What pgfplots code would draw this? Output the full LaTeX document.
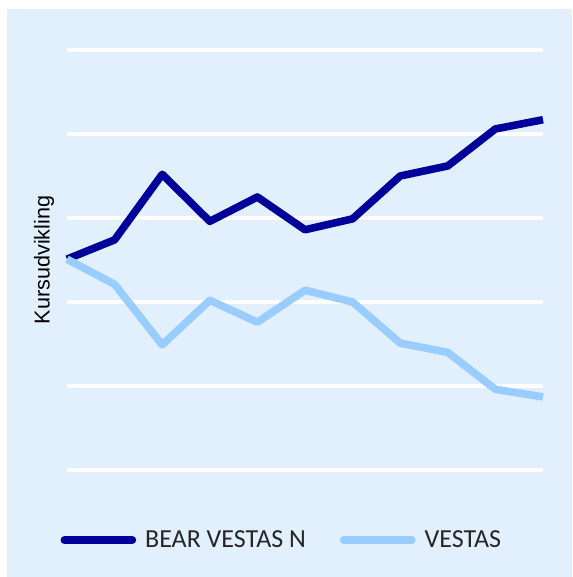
\documentclass[border=0pt]{standalone}
\usepackage{pgfplots}
\pgfplotsset{compat=1.18}
\usepackage{fontspec}
\setmainfont{Carlito}
\newfontfamily\arialfont{Liberation Sans}
\definecolor{bgc}{HTML}{E2F0FE}
\definecolor{darkc}{HTML}{00009B}
\definecolor{lightc}{HTML}{99CCFF}
\pgfplotstableread{
x dark light
0 2.51 2.51
1 2.74 2.21
2 3.52 1.49
3 2.96 2.02
4 3.25 1.76
5 2.86 2.14
6 2.99 2.00
7 3.50 1.51
8 3.62 1.40
9 4.06 0.96
10 4.17 0.87
}\datatable
\begin{document}
\begin{tikzpicture}
\path (0,0) rectangle (286pt,288.5pt);
\fill[bgc] (3.5pt,0pt) rectangle (286pt,284pt);
\begin{axis}[
  at={(33.5pt,53.5pt)}, anchor=south west,
  scale only axis, width=238pt, height=210pt,
  xmin=0, xmax=10, ymin=0, ymax=5,
  axis line style={draw=none},
  ytick={0,1,2,3,4,5}, xtick=\empty,
  yticklabels={}, major tick length=0pt,
  ymajorgrids, grid style={white, line width=1.75pt},
  clip=false,
  ylabel={\arialfont\fontsize{10.8}{13}\selectfont Kursudvikling},
  ylabel style={at={(axis description cs:-0.048,0.5)}, anchor=center, rotate=0},
  legend columns=2,
  legend style={draw=none, fill=none, at={(axis description cs:-0.027,-0.167)}, anchor=west,
    font=\fontsize{13}{15}\selectfont, text=black!85,
    /tikz/every even column/.append style={column sep=15pt},
    /tikz/every odd column/.append style={column sep=0pt}},
  legend cell align=left,
  legend image code/.code={\draw[#1, line cap=round] (0pt,0pt) -- (34pt,0pt);},
  legend style={nodes={inner xsep=2pt}},
]
\addplot[darkc, line width=3.8pt, line join=round] table[x=x, y=dark] {\datatable};
\addlegendentry{\hspace{2.5pt}BEAR VESTAS N}
\addplot[lightc, line width=3.8pt, line join=round] table[x=x, y=light] {\datatable};
\addlegendentry{\hspace{2.5pt}VESTAS}
\end{axis}
\end{tikzpicture}
\end{document}
